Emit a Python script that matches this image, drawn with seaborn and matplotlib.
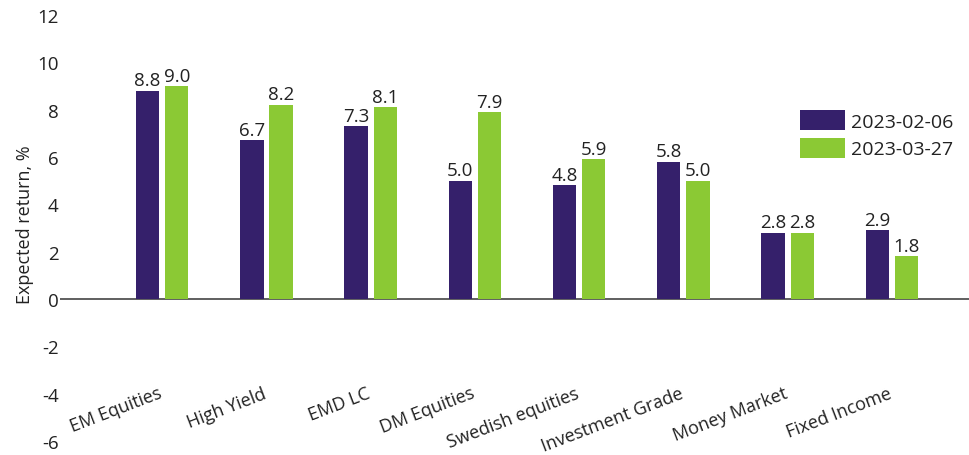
import matplotlib
matplotlib.use("Agg")
import matplotlib.pyplot as plt
import matplotlib.transforms as mtransforms
import seaborn as sns
import pandas as pd

categories = ["EM Equities", "High Yield", "EMD LC", "DM Equities", "Swedish equities",
              "Investment Grade", "Money Market", "Fixed Income"]
series_names = ["2023-02-06", "2023-03-27"]
values_feb = [8.8, 6.7, 7.3, 5.0, 4.8, 5.8, 2.8, 2.9]
values_mar = [9.0, 8.2, 8.1, 7.9, 5.9, 5.0, 2.8, 1.8]
y_ticks = [-6, -4, -2, 0, 2, 4, 6, 8, 10, 12]
colors = ["#35206B", "#8BC934"]

df = pd.DataFrame({
    "category": categories * 2,
    "series": [series_names[0]] * len(categories) + [series_names[1]] * len(categories),
    "value": values_feb + values_mar,
})

sns.set_style("white")
plt.rcParams["font.family"] = ["Open Sans", "DejaVu Sans"]

FS = 13.5
TXT = "#222222"

fig = plt.figure(figsize=(9.69, 4.56), dpi=100)
ax = fig.add_axes([0.062, 0.031, 0.938, 0.934])

sns.barplot(data=df, x="category", y="value", hue="series", order=categories,
            hue_order=series_names, palette=colors, width=0.56, gap=0.2,
            saturation=1, ax=ax, edgecolor="none", legend=True)

for cont in ax.containers:
    ax.bar_label(cont, fmt="%.1f", padding=1, fontsize=FS, color=TXT)

ax.set_ylim(-6, 12)
ax.set_xlim(-0.98, 7.74)
ax.set_yticks(y_ticks)
ax.set_yticklabels([str(t) for t in y_ticks], fontsize=FS, color=TXT)
ax.tick_params(axis="y", length=0, pad=1)
ax.set_xticks(range(len(categories)))
ax.set_xticklabels(categories, rotation=21, ha="right", rotation_mode="anchor",
                   fontsize=13, color=TXT)
ax.tick_params(axis="x", length=0, pad=-41)
offset = mtransforms.ScaledTranslation(-4 / 100, 0, fig.dpi_scale_trans)
for lbl in ax.get_xticklabels():
    lbl.set_transform(lbl.get_transform() + offset)
ax.set_xlabel("")
ax.set_ylabel("Expected return, %", fontsize=13, color=TXT)
ax.yaxis.set_label_coords(-0.029, 0.51)

for s in ax.spines.values():
    s.set_visible(False)
ax.axhline(0, color="#444444", linewidth=1.2, zorder=0)

leg = ax.legend(loc="upper left", bbox_to_anchor=(0.826, 0.756),
                bbox_transform=fig.transFigure, frameon=False, fontsize=14,
                handlelength=2.3, handleheight=1.2, handletextpad=0.3,
                labelspacing=0.35, borderaxespad=0, borderpad=0, title=None)
for t in leg.get_texts():
    t.set_color(TXT)

fig.savefig("out.png", dpi=100)
